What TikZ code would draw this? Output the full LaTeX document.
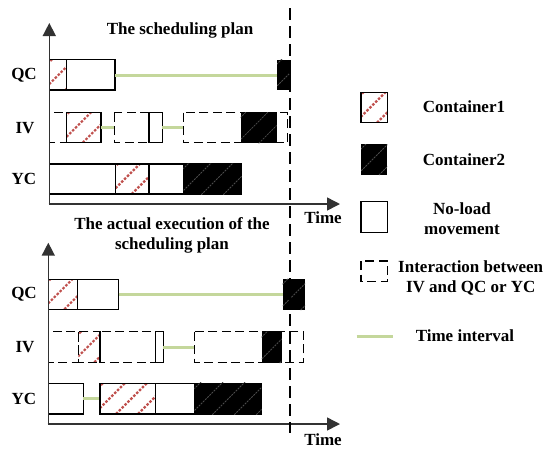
\documentclass[tikz,border=0pt]{standalone}
\usepackage{fontspec}
\setmainfont{Liberation Serif}
\usetikzlibrary{arrows.meta}

\definecolor{hatchred}{RGB}{192,80,77}
\definecolor{gapgreen}{RGB}{196,215,155}
\definecolor{axisgray}{RGB}{50,50,50}

\tikzset{
  solidbox/.style={draw=black, line width=1.4pt},
  dashbox/.style={draw=black, line width=1.4pt, dash pattern=on 9pt off 4.5pt},
  gapline/.style={draw=gapgreen, line width=3pt},
  redhatch/.style={draw=hatchred, line width=2.2pt, dash pattern=on 2.5pt off 1.6pt},
  darkhatch/.style={draw=black!70, line width=0.8pt, dash pattern=on 2pt off 1pt},
  axisline/.style={draw=axisgray, line width=1.5pt, -{Triangle[width=13pt,length=13pt]}},
  divider/.style={draw=black, line width=1.3pt, dash pattern=on 12pt off 6pt},
  lbl/.style={font=\fontsize{17}{20}\selectfont\bfseries, inner sep=0pt, align=center},
}

% Container1: white box crossed by red dotted diagonals
\newcommand{\hatchA}[4]{%
  \fill[white] (#1,#2) rectangle (#3,#4);
  \begin{scope}
    \clip (#1,#2) rectangle (#3,#4);
    \foreach \k in {-2,...,4} \draw[redhatch] ({#1+\k*22-6},#4) -- ++(34,-34);
  \end{scope}}

% Container2: black box with faint dark diagonals
\newcommand{\hatchB}[4]{%
  \fill[black] (#1,#2) rectangle (#3,#4);
  \begin{scope}
    \clip (#1,#2) rectangle (#3,#4);
    \foreach \k in {-2,...,4} \draw[darkhatch] ({#1+\k*22-4},#4) -- ++(34,-34);
  \end{scope}}

\begin{document}
\begin{tikzpicture}[x=1pt,y=-1pt]
\useasboundingbox (0,0) rectangle (545,448);

% ---------- upper chart: the plan ----------
\node[lbl] (title1) at (180,30) {The scheduling plan};
\node[lbl] (qc1) at (24,75) {QC};
\node[lbl] (iv1) at (25,128) {IV};
\node[lbl] (yc1) at (24,179) {YC};

% QC
\hatchA{49.3}{59.5}{66.7}{90}
\draw[solidbox] (49.3,59.5) rectangle (66.7,90);
\draw[solidbox] (66.7,59.5) rectangle (115,90);
\draw[gapline] (115,75) -- (277,75);
\hatchB{277}{59.5}{290.7}{90}

% IV
\draw[dashbox] (49.3,112.7) rectangle (66.7,142.7);
\hatchA{66.7}{112.7}{101}{142.7}
\draw[solidbox] (66.7,112.7) rectangle (101,142.7);
\draw[gapline] (101,127.7) -- (114.3,127.7);
\draw[dashbox] (114.3,112.7) rectangle (149,142.7);
\draw[solidbox] (149,112.7) rectangle (162.3,142.7);
\draw[gapline] (162.3,127.7) -- (183.3,127.7);
\draw[dashbox] (183.3,112.7) rectangle (287.3,142.7);
\hatchB{240.7}{112}{276.7}{143.4}

% YC
\draw[solidbox] (49.3,164) rectangle (115.7,194);
\hatchA{115.7}{164}{149}{194}
\draw[solidbox] (115.7,164) rectangle (149,194);
\draw[solidbox] (149,164) rectangle (183.3,194);
\hatchB{183.3}{163.3}{241.7}{194.7}

% axes
\draw[axisline] (49.3,204) -- (49.3,23);
\draw[axisline] (48.5,204) -- (340,204);
\node[lbl] (time1) at (323,218) {Time};

% ---------- lower chart: the execution ----------
\node[lbl] (title2) at (172,235) {The actual execution of the\\scheduling plan};
\node[lbl] (qc2) at (24,294) {QC};
\node[lbl] (iv2) at (25,347) {IV};
\node[lbl] (yc2) at (24,399) {YC};

% QC
\hatchA{48.3}{279.3}{77.7}{309.3}
\draw[solidbox] (48.3,279.3) rectangle (77.7,309.3);
\draw[solidbox] (77.7,279.3) rectangle (118.7,309.3);
\draw[gapline] (118.7,294.5) -- (282.7,294.5);
\hatchB{282.7}{278.6}{305}{310}

% IV
\hatchA{78.3}{331.7}{100}{362.3}
\draw[dashbox] (48.3,331.7) rectangle (78.3,362.3);
\draw[dashbox] (78.3,331.7) rectangle (100,362.3);
\draw[dashbox] (100,331.7) rectangle (155.7,362.3);
\draw[solidbox] (155.7,331.7) rectangle (163.3,362.3);
\draw[gapline] (163.3,347) -- (194.3,347);
\draw[dashbox] (194.3,331.7) rectangle (303.3,362.3);
\hatchB{261.7}{331}{281.7}{363}

% YC
\draw[solidbox] (48.3,383.3) rectangle (83.3,414);
\draw[gapline] (83.3,398.7) -- (100,398.7);
\hatchA{100}{383.3}{155.3}{414}
\draw[solidbox] (100,383.3) rectangle (155.3,414);
\draw[solidbox] (155.3,383.3) rectangle (194.3,414);
\hatchB{194.3}{382.6}{261.7}{414.7}

% axes
\draw[axisline] (48.3,424) -- (48.3,242.7);
\draw[axisline] (47.5,424) -- (340,424);
\node[lbl] (time2) at (323,440) {Time};

% boundary between planned and executed horizon
\draw[divider] (290,8) -- (290,433);

% ---------- legend ----------
\hatchA{361}{92.3}{387.3}{122.7}
\draw[solidbox] (361,92.3) rectangle (387.3,122.7);
\node[lbl] (legc1) at (464,106.7) {Container1};

\hatchB{361}{144.3}{387.3}{175}
\node[lbl] (legc2) at (464,160) {Container2};

\draw[solidbox] (361,201.7) rectangle (387.3,232.3);
\node[lbl] (legnl) at (462,218.3) {No-load\\movement};

\draw[dashbox] (361,261) rectangle (387.3,281.7);
\node[lbl] (legia) at (470.7,278.3) {Interaction between\\IV and QC or YC};

\draw[gapline] (356.7,336) -- (392.7,336);
\node[lbl] (legti) at (465,336) {Time interval};
\end{tikzpicture}
\end{document}
